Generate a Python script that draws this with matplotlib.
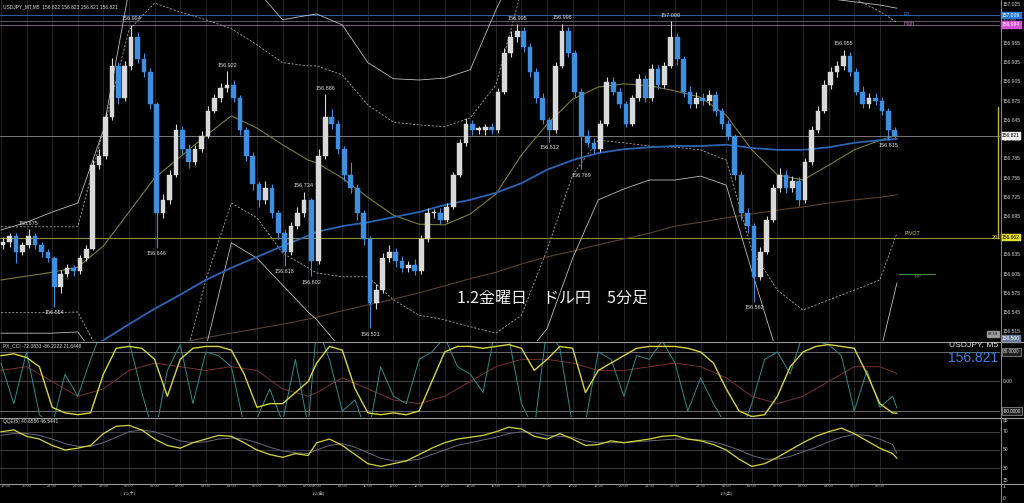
import matplotlib
matplotlib.use("Agg")
import matplotlib.pyplot as plt
import numpy as np
from matplotlib.lines import Line2D

# ---------------- data ----------------
closes = [156.655,156.665,156.640,156.650,156.665,156.650,156.640,156.630,156.585,156.605,
          156.615,156.610,156.630,156.645,156.775,156.790,156.850,156.930,156.880,156.930,
          156.975,156.940,156.920,156.870,156.700,156.720,156.760,156.830,156.800,156.780,
          156.800,156.820,156.860,156.880,156.895,156.900,156.880,156.830,156.790,156.745,
          156.720,156.740,156.700,156.670,156.640,156.680,156.700,156.720,156.625,156.790,
          156.850,156.840,156.800,156.760,156.740,156.700,156.660,156.560,156.580,156.630,
          156.640,156.625,156.615,156.620,156.610,156.660,156.700,156.700,156.690,156.710,
          156.760,156.810,156.840,156.830,156.830,156.835,156.830,156.890,156.950,156.975,
          156.985,156.960,156.920,156.880,156.845,156.830,156.930,156.985,156.950,156.890,
          156.820,156.810,156.800,156.840,156.905,156.890,156.870,156.840,156.880,156.910,
          156.880,156.925,156.900,156.930,156.975,156.940,156.890,156.870,156.880,156.875,
          156.885,156.860,156.840,156.820,156.760,156.700,156.680,156.600,156.640,156.690,
          156.740,156.760,156.740,156.750,156.720,156.780,156.830,156.860,156.900,156.920,
          156.930,156.945,156.920,156.890,156.870,156.880,156.875,156.860,156.830,156.821]
first_open = 156.650
wick_up = [8,5,4,6,10,4,5,4,3,6, 6,5,5,6,8,10,8,12,6,8, 19,8,10,6,4,10,8,10,6,8,
           6,8,8,6,8,22,8,4,5,6, 5,10,5,5,6,6,10,14,4,10, 36,12,6,5,20,6,5,4,10,8,
           10,6,8,6,8,6,8,6,8,6, 5,6,8,6,6,5,6,6,8,10, 10,6,6,6,8,6,6,11,6,5,
           5,10,8,6,8,8,6,6,5,8, 6,8,6,6,25,6,5,8,10,8, 8,6,5,6,4,6,8,5,8,6,
           6,10,8,8,6,6,6,8,8,8, 8,10,6,6,8,8,8,6,4,4]
wick_dn = [6,8,18,5,4,6,8,6,31,10, 5,8,4,4,3,6,5,4,10,5, 6,6,8,8,54,8,5,4,8,10,
           5,4,3,4,6,5,6,8,8,8, 10,5,8,10,22,5,4,6,23,4, 6,8,8,10,8,10,10,39,10,4,
           6,8,6,6,6,4,5,8,6,4, 3,4,5,8,6,8,6,4,4,6, 8,8,8,8,6,18,4,4,6,8,
           51,6,6,4,3,6,6,6,4,4, 6,4,6,4,4,8,8,6,5,6, 6,8,8,6,8,10,10,38,4,4,
           4,6,8,6,8,4,4,4,4,6, 8,6,6,6,6,6,6,6,15,3]

high_labels = [(4, "156.675"), (20, "156.994"), (35, "156.922"), (47, "156.734"), (50, "156.886"),
               (80, "156.995"), (87, "156.996"), (104, "157.000"), (131, "156.955")]
low_labels = [(8, "156.554"), (24, "156.646"), (44, "156.618"), (48, "156.602"), (57, "156.521"),
              (85, "156.812"), (90, "156.769"), (117, "156.562"), (138, "156.815")]

# hourly indicator samples (19:00 ... 06:00, last bar)
ma_blue = [156.410,156.434,156.457,156.481,156.502,156.527,156.551,156.573,156.596,156.615,156.632,156.649,156.665,
           156.671,156.680,156.686,156.694,156.702,156.713,156.721,156.732,156.747,156.768,156.783,156.794,156.800,
           156.803,156.805,156.805,156.807,156.802,156.799,156.799,156.803,156.810,156.814,156.816]
ma_olive = [156.596,156.602,156.608,156.616,156.649,156.702,156.755,156.788,156.821,156.852,156.833,156.807,156.783,
            156.779,156.755,156.725,156.697,156.683,156.682,156.699,156.730,156.791,156.839,156.878,156.897,156.902,
            156.899,156.891,156.881,156.853,156.799,156.760,156.752,156.775,156.799,156.814,156.822]
ma_brown = [156.446,156.454,156.460,156.468,156.476,156.484,156.490,156.498,156.506,156.513,156.520,156.527,156.535,
            156.538,156.548,156.557,156.566,156.576,156.587,156.598,156.608,156.621,156.632,156.641,156.651,156.660,
            156.669,156.680,156.686,156.693,156.699,156.705,156.710,156.716,156.721,156.725,156.729]
band_up_solid = [156.674,156.686,156.702,156.716,156.830,157.048,157.126,157.158,157.158,157.126,157.048,157.002,157.009,
                 157.011,156.994,156.935,156.910,156.908,156.911,156.924,157.017,157.100,157.150,157.180,157.180,157.160,
                 157.140,157.120,157.100,157.080,157.060,157.050,157.040,157.035,157.030,157.025,157.020]
band_dn_solid = [156.513,156.513,156.513,156.515,156.460,156.410,156.380,156.410,156.490,156.654,156.630,156.588,156.546,
                 156.534,156.487,156.440,156.420,156.410,156.410,156.420,156.440,156.470,156.520,156.630,156.721,156.738,
                 156.752,156.752,156.758,156.744,156.610,156.480,156.440,156.440,156.440,156.480,156.591]
band_up_dash = [156.679,156.679,156.679,156.679,156.830,156.986,157.028,157.014,157.002,156.988,156.963,156.935,156.930,
                156.930,156.916,156.869,156.842,156.838,156.835,156.849,156.900,157.048,157.080,157.090,157.080,157.060,
                157.050,157.045,157.040,157.040,157.040,157.040,157.040,157.040,157.035,157.015,156.998]
band_dn_dash = [156.545,156.545,156.545,156.546,156.471,156.409,156.378,156.440,156.596,156.716,156.693,156.638,156.615,
                156.607,156.601,156.601,156.565,156.541,156.534,156.523,156.513,156.541,156.643,156.760,156.814,156.810,
                156.805,156.803,156.799,156.783,156.643,156.580,156.549,156.565,156.580,156.596,156.669]
cci_slow = [30,40,0,-40,-20,30,50,40,30,40,30,-20,-40,
            -30,10,-20,-50,-60,-40,0,40,60,60,50,30,30,40,50,40,10,-40,-60,-40,0,40,40,21.6]

# half-hourly samples
cci_yellow = [70,75,65,40,-70,-85,-90,-85,20,90,95,90,60,-40,60,90,95,95,85,20,-70,-60,-60,-30,0,
              50,95,85,-20,-85,-90,-85,-90,-80,0,80,95,95,90,95,100,90,30,60,95,90,-30,30,50,70,90,95,95,95,90,
              80,50,-20,-80,-95,-90,-40,40,80,95,100,95,90,20,-60,-85,-86]
cci_teal = [50,-60,80,-90,-120,20,-40,60,150,120,110,-30,-150,30,100,-60,80,70,40,-120,-100,-20,-110,60,-120,
            150,60,-80,-50,-150,40,-40,-60,60,80,120,40,20,-30,150,120,-60,-130,150,90,-120,-110,80,60,-40,70,60,110,50,
            -80,10,-60,-120,-150,-60,60,80,20,130,110,100,70,-80,30,-70,-40,-72]
qqe_fast = [70,72,65,62,55,50,52,55,68,76,77,72,62,55,52,58,62,66,65,58,50,45,42,46,44,
            58,62,55,45,35,32,35,38,45,52,58,62,64,66,70,75,73,65,62,68,62,55,56,60,58,60,62,65,66,62,
            60,56,50,40,32,35,42,50,58,65,70,74,68,60,52,46,41]
qqe_slow = [66,68,68,66,62,57,54,54,58,64,70,72,70,65,60,58,59,62,63,62,58,53,49,47,46,
            50,55,57,53,47,41,38,38,40,45,50,55,58,61,64,68,70,69,66,65,64,60,58,58,58,59,60,61,62,62,
            61,59,55,50,44,40,40,43,48,53,59,64,67,66,62,56,46.5]

hour_labels = ["19:00","20:00","21:00","22:00","23:00","00:00","01:00","02:00","03:00","04:00","05:00","06:00","07:00",
               "08:00","09:00","10:00","11:00","12:00","13:00","14:00","15:00","16:00","17:00","18:00","19:00","20:00",
               "21:00","22:00","23:00","00:00","01:00","02:00","03:00","04:00","05:00","06:00"]
date_labels = [("1/1(木)", 5), ("1/2(金)", 12.4), ("1/3(土)", 29)]

price_ticks = [156.515,156.545,156.575,156.605,156.635,156.695,156.725,156.755,156.785,156.815,
               156.845,156.875,156.905,156.935,156.965,157.025]
R1, HIGH, ROUND, PIVOT, PP, LAST = 157.009, 156.994, 157.000, 156.662, 156.605, 156.821

# ---------------- geometry helpers ----------------
W, H = 1024, 503
fig = plt.figure(figsize=(W/100, H/100), dpi=100, facecolor="black")

def add_ax(top, bottom):
    a = fig.add_axes([0, 1 - bottom/H, 1000/W, (bottom - top)/H])
    a.set_facecolor("black")
    for s in a.spines.values():
        s.set_visible(False)
    a.set_xticks([]); a.set_yticks([])
    a.set_xlim(-0.47, 468.35)
    return a

def hour_bar(k):          # k-th hourly slot, with short 07:00 hour on 1/2
    return 12*k if k <= 12 else 148 + 12*(k - 13)

def candle_bar(j):
    if j < 48:
        return 3*j + 1
    if j == 48:
        return 145.5
    return 148 + 3*(j - 49) + 1

hour_x = [hour_bar(k) for k in range(36)] + [420]
half_x = [6*k for k in range(25)] + [148 + 6*m for m in range(46)] + [420]

ax = add_ax(0, 341)
ax.set_ylim(156.5008, 157.0328)
cci = add_ax(343, 417)
cci.set_ylim(-96.2, 104.3)
qqe = add_ax(419, 483)
qqe.set_ylim(13.8, 84)
bot = add_ax(483, 503)
bot.set_ylim(0, 1)

# vertical hourly grid
for a in (ax, cci, qqe):
    for k in range(36):
        a.axvline(hour_bar(k), color="#2c2c2c", lw=0.6, zorder=0)

# ---------------- main panel ----------------
def band(vals, **kw):
    ax.plot(hour_x[:len(vals)], vals, **kw)

band(ma_brown, color="#5e4126", lw=0.8, zorder=2)
band(band_up_solid, color="#bdbdbd", lw=0.6, zorder=2)
band(band_dn_solid, color="#bdbdbd", lw=0.6, zorder=2)
band(band_up_dash, color="#a8a8a8", lw=0.6, ls=(0, (2.5, 2)), zorder=2)
band(band_dn_dash, color="#a8a8a8", lw=0.6, ls=(0, (2.5, 2)), zorder=2)
band(ma_olive, color="#7d7d3c", lw=0.8, zorder=2)
band(ma_blue, color="#2c65b8", lw=1.3, zorder=3)

ax.axhline(R1, color="#2a5c9c", lw=0.8, zorder=1)
ax.axhline(ROUND, color="#6f6470", lw=0.6, zorder=1)
ax.axhline(HIGH, color="#8d6a8d", lw=0.6, zorder=1)
ax.axhline(LAST, color="#8c8c8c", lw=0.6, zorder=1)
ax.axhline(PIVOT, color="#8d8d3a", lw=0.8, zorder=1)
ax.plot([421, 438], [PP, PP], color="#3f8f3f", lw=0.8)

opens = [first_open] + closes[:-1]
xs = [candle_bar(j) for j in range(len(closes))]
for j, (x, o, c) in enumerate(zip(xs, opens, closes)):
    up = c >= o
    col = "#d9d9d9" if up else "#3f8fe0"
    hi = max(o, c) + wick_up[j]/1000
    lo = min(o, c) - wick_dn[j]/1000
    ax.vlines(x, lo, hi, color=col, lw=0.8, zorder=4)
    ax.bar(x, max(abs(c - o), 0.0025), bottom=min(o, c), width=2.2, color=col,
           edgecolor=col, lw=0.3, zorder=5)

for j, t in high_labels:
    hi = max(opens[j], closes[j]) + wick_up[j]/1000
    ax.annotate(t, (xs[j], hi), xytext=(0, 2.5), textcoords="offset points",
                ha="center", va="bottom", fontsize=4, color="#dcdcdc", family="Liberation Sans", zorder=6)
for j, t in low_labels:
    lo = min(opens[j], closes[j]) - wick_dn[j]/1000
    ax.annotate(t, (xs[j], lo), xytext=(0, -2.5), textcoords="offset points",
                ha="center", va="top", fontsize=4, color="#dcdcdc", family="Liberation Sans", zorder=6)

yt = ax.get_yaxis_transform()
for p in price_ticks:
    ax.text(1.003, p, f"{p:.3f}", transform=yt, fontsize=3.6, color="#d0d0d0",
            va="center", ha="left", family="Liberation Sans", clip_on=False)

def box(a, y, txt, fc, tc, tr=None):
    a.text(1.002, y, txt, transform=tr or a.get_yaxis_transform(), fontsize=3.6, color=tc, va="center", ha="left",
           family="Liberation Sans", clip_on=False,
           bbox=dict(boxstyle="square,pad=0.25", fc=fc, ec=fc, lw=0.3))

box(ax, R1, "157.009", "#2a78d8", "white")
ax.text(1.003, ROUND, "157.000", transform=yt, fontsize=2.8, color="#9a9a9a", va="center", ha="left",
        family="Liberation Sans", clip_on=False)
box(ax, HIGH, "156.994", "#d84fd8", "white")
box(ax, LAST, "156.821", "#f0f0f0", "black")
box(ax, PIVOT, "156.662", "#e8e030", "black")
box(ax, 156.504, "156.500", "#6a7a9a", "white")

# labels for pivot lines
ax.text(423, R1 + 0.001, "R1", fontsize=3.8, color="#3f72c8", va="center", family="Liberation Sans")
ax.text(423, HIGH + 0.002, "High", fontsize=3.8, color="#c070c8", va="center", family="Liberation Sans")
ax.text(423.5, PIVOT + 0.006, "PIVOT", fontsize=3.8, color="#c8c83a", va="center", family="Liberation Sans")
ax.text(428.5, PP - 0.003, "PP", fontsize=3.8, color="#3fa03f", va="center", family="Liberation Sans")
ax.text(0.998, PIVOT, "20", transform=yt, fontsize=4, color="#e8e060", ha="right", va="center",
        family="Liberation Sans", clip_on=False)
ax.plot([0.998, 0.998], [PIVOT, 156.866], transform=yt, color="#b8b840", lw=1.0, clip_on=False)
ax.text(0.998, 156.512, "04:59", transform=yt, fontsize=3, color="#222222", ha="right", va="center",
        family="Liberation Sans", clip_on=False,
        bbox=dict(boxstyle="square,pad=0.2", fc="#9a9a9a", ec="#9a9a9a"))

fig.text(3/W, 1 - 7/H, "USDJPY_MT,M5  156.822 156.823 156.821 156.821", fontsize=3.5,
         color="#dddddd", va="center", family="Liberation Sans")
fig.text(457/W, 1 - 298/H, "1.2金曜日　ドル円　5分足", fontsize=11.5, color="#f2f2f2", va="center",
         family=["Noto Sans CJK JP", "DejaVu Sans"])

# ---------------- CCI panel ----------------
for lv in (80, 0, -80):
    cci.axhline(lv, color="#7a7a7a" if lv else "#555555", lw=0.6, zorder=1)
cci.plot(hour_x[:len(cci_slow)], cci_slow, color="#7a3030", lw=0.7, zorder=2)
cci.plot(half_x[:len(cci_teal)], cci_teal, color="#2f8c8c", lw=0.7, zorder=3)
cci.plot(half_x[:len(cci_yellow)], cci_yellow, color="#d6d63a", lw=1.0, zorder=4)
fig.text(3/W, 1 - 346/H, "PX_CCI -72.0833 -86.2222 21.6448", fontsize=3.5, color="#dddddd",
         va="center", family="Liberation Sans")
ct = cci.get_yaxis_transform()
cci.text(1.003, 80, "80.0000", transform=ct, fontsize=3.4, color="#e0e0e0", va="center", ha="left",
         family="Liberation Sans", clip_on=False,
         bbox=dict(boxstyle="square,pad=0.25", fc="#202020", ec="#c0c0c0", lw=0.4))
cci.text(1.003, 0, "0.00", transform=ct, fontsize=3.6, color="#d0d0d0", va="center", ha="left",
         family="Liberation Sans", clip_on=False)
cci.text(1.003, -80, "-80.0000", transform=ct, fontsize=3.4, color="#e0e0e0", va="center", ha="left",
         family="Liberation Sans", clip_on=False,
         bbox=dict(boxstyle="square,pad=0.25", fc="#202020", ec="#c0c0c0", lw=0.4))
fig.text(998/W, 1 - 345/H, "USDJPY, M5", fontsize=6.1, color="#e0e0e0", ha="right", va="center",
         family="Liberation Sans")
fig.text(998/W, 1 - 358/H, "156.821", fontsize=10, color="#3a80e0", ha="right", va="center",
         family="Liberation Sans")

# ---------------- QQE panel ----------------
for lv in (70, 50, 30):
    qqe.axhline(lv, color="#4a4a4a", lw=0.6, zorder=1)
qqe.plot(half_x[:len(qqe_slow)], qqe_slow, color="#6a6a7a", lw=0.7, zorder=2)
qqe.plot(half_x[:len(qqe_fast)], qqe_fast, color="#d6d63a", lw=0.9, zorder=3)
fig.text(3/W, 1 - 421/H, "QQE(5) 40.6586 46.5441", fontsize=3.5, color="#dddddd", va="center",
         family="Liberation Sans")
qt = qqe.get_yaxis_transform()
for lv, yv in ((85, 82.5), (70, 70), (50, 50), (30, 30), (15, 16)):
    qqe.text(1.003, yv, str(lv), transform=qt, fontsize=3.6, color="#d0d0d0", va="center", ha="left",
             family="Liberation Sans", clip_on=False)

# ---------------- time axis ----------------
for k, lab in enumerate(hour_labels):
    bot.text(hour_bar(k) if k else -0.3, 0.85, lab, fontsize=2.9, color="#b0b0b0",
             ha="center" if k else "left", va="center", family="Liberation Sans", clip_on=False)
for lab, k in date_labels:
    bot.text(hour_bar(int(k)) + (k - int(k))*12 if k > 12 else hour_bar(k), 0.5, lab, fontsize=3.0,
             color="#b0b0b0", ha="center", va="center", family=["Noto Sans CJK JP", "DejaVu Sans"], clip_on=False)
bt = bot.get_yaxis_transform()
bot.text(1.003, 0.8, "1", transform=bt, fontsize=3.6, color="#d0d0d0", va="center", ha="left",
         family="Liberation Sans", clip_on=False)
bot.text(1.003, 0.2, "0", transform=bt, fontsize=3.6, color="#d0d0d0", va="center", ha="left",
         family="Liberation Sans", clip_on=False)

# ---------------- frame lines ----------------
def fline(x0, y0, x1, y1, col="#9a9a9a", lw=0.8):
    fig.add_artist(Line2D([x0/W, x1/W], [1 - y0/H, 1 - y1/H], color=col, lw=lw))

fline(0, 341.5, 1024, 341.5)
fline(0, 417.5, 1024, 417.5)
fline(0, 483.5, 1024, 483.5)
fline(1000.5, 0, 1000.5, 503, col="#8a8a8a", lw=0.7)

fig.savefig("out.png", dpi=100, facecolor="black")
